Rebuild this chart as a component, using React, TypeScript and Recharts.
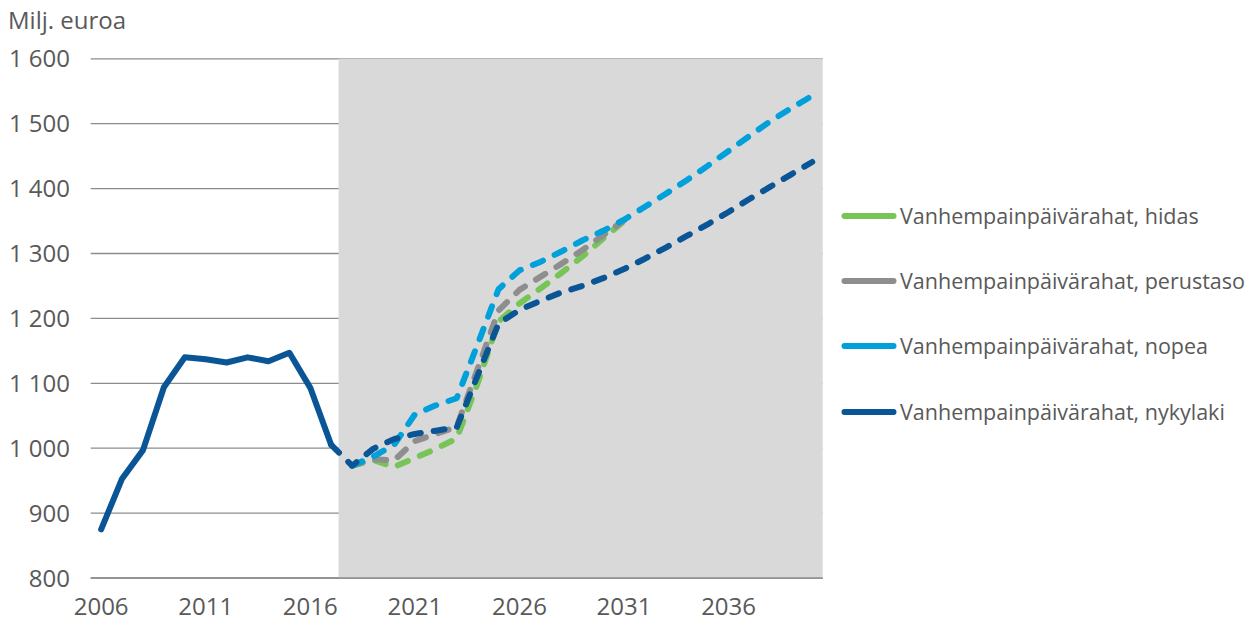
import React from 'react';
import { LineChart, Line, XAxis, YAxis, CartesianGrid, ReferenceArea, Legend } from 'recharts';

const years = [
  2006, 2007, 2008, 2009, 2010, 2011, 2012, 2013, 2014, 2015, 2016, 2017,
  2018, 2019, 2020, 2021, 2022, 2023, 2024, 2025, 2026, 2027, 2028, 2029,
  2030, 2031, 2032, 2033, 2034, 2035, 2036, 2037, 2038, 2039, 2040,
];

// Toteutunut 2006–2017
const historia = [875, 953, 997, 1094, 1140, 1137, 1132, 1140, 1134, 1147, 1093, 1005];

// Ennusteet 2018–2031 (hidas, perustaso) – yhtyvät nopeaan 2031 jälkeen
const hidas = [973, 982, 971, 985, 999, 1015, 1100, 1195, 1223, 1246, 1270, 1295, 1323, 1350];
const perustaso = [973, 983, 981, 1011, 1022, 1033, 1122, 1212, 1244, 1264, 1284, 1305, 1328, 1351];
// Ennuste 2018–2040
const nopea = [
  973, 987, 1005, 1052, 1066, 1077, 1160, 1245, 1274, 1287, 1303, 1320, 1335, 1352,
  1372, 1392, 1413, 1435, 1458, 1481, 1504, 1524, 1543,
];
// Nykylaki 2017–2040 (jatkuu toteutuneesta)
const nykylaki = [
  1005, 973, 999, 1014, 1022, 1027, 1032, 1112, 1192, 1213, 1227, 1240, 1250, 1262,
  1276, 1292, 1309, 1327, 1345, 1364, 1384, 1403, 1422, 1441,
];

const seriesNames = {
  hidas: 'Vanhempainpäivärahat, hidas',
  perustaso: 'Vanhempainpäivärahat, perustaso',
  nopea: 'Vanhempainpäivärahat, nopea',
  nykylaki: 'Vanhempainpäivärahat, nykylaki',
};
const legendOrder = ['hidas', 'perustaso', 'nopea', 'nykylaki'];

const xTicks = [2006, 2011, 2016, 2021, 2026, 2031, 2036];
const yTicks = [800, 900, 1000, 1100, 1200, 1300, 1400, 1500, 1600];
const forecastShadeStart = 2017.35;
const forecastShadeEnd = 2040.5;

const HIST_START = 2006;
const FC_START = 2018;
const NYKY_START = 2017;

const pick = (arr: number[], idx: number) => (idx >= 0 && idx < arr.length ? arr[idx] : null);

const data = years.map((year) => ({
  year,
  historia: pick(historia, year - HIST_START),
  hidas: pick(hidas, year - FC_START),
  perustaso: pick(perustaso, year - FC_START),
  nopea: pick(nopea, year - FC_START),
  nykylaki: pick(nykylaki, year - NYKY_START),
}));

const TEXT = '#595959';
const GRID = '#8c8c8c';
const FONT = '"Open Sans", sans-serif';

const fmtY = (v: number) =>
  v >= 1000 ? `${Math.floor(v / 1000)} ${String(v % 1000).padStart(3, '0')}` : String(v);

const renderLegend = (props: any) => {
  const items = (props.payload || [])
    .filter((p: any) => legendOrder.includes(String(p.dataKey)))
    .sort(
      (a: any, b: any) =>
        legendOrder.indexOf(String(a.dataKey)) - legendOrder.indexOf(String(b.dataKey))
    );
  return (
    <div>
      {items.map((p: any) => (
        <div
          key={String(p.dataKey)}
          style={{ height: 65.3, display: 'flex', alignItems: 'center', whiteSpace: 'nowrap' }}
        >
          <svg width={56} height={10} style={{ display: 'block' }}>
            <line
              x1={3.5}
              y1={5}
              x2={52.5}
              y2={5}
              stroke={p.color}
              strokeWidth={6}
              strokeLinecap="round"
            />
          </svg>
          <span
            style={{
              marginLeft: 3,
              fontFamily: FONT,
              fontSize: 21.5,
              color: TEXT,
              lineHeight: '26px',
            }}
          >
            {p.value}
          </span>
        </div>
      ))}
    </div>
  );
};

const DASH = '11 13';
const W = 6;

export default function App() {
  return (
    <div style={{ position: 'absolute', left: 0, top: 0, width: 1257, height: 617, background: '#fff' }}>
      <div
        style={{
          position: 'absolute',
          left: 8,
          top: 8,
          fontFamily: FONT,
          fontSize: 24,
          lineHeight: '24px',
          color: TEXT,
          whiteSpace: 'nowrap',
        }}
      >
        Milj. euroa
      </div>
      <LineChart
        width={1257}
        height={617}
        data={data}
        margin={{ top: 58.8, right: 434.3, bottom: 0, left: 0 }}
        style={{ position: 'absolute', left: 0, top: 0 }}
      >
        <ReferenceArea
          x1={forecastShadeStart}
          x2={forecastShadeEnd}
          y1={800}
          y2={1600}
          fill="#d9d9d9"
          fillOpacity={1}
          stroke="none"
          ifOverflow="visible"
        />
        <CartesianGrid vertical={false} stroke={GRID} strokeWidth={1.3} />
        <XAxis
          dataKey="year"
          type="number"
          domain={[2005.5, 2040.5]}
          ticks={xTicks}
          allowDataOverflow
          height={39}
          tickSize={0}
          tickMargin={19.5}
          axisLine={{ stroke: GRID, strokeWidth: 1.3 }}
          tickLine={false}
          tick={{ fill: TEXT, fontSize: 24, fontFamily: FONT }}
        />
        <YAxis
          type="number"
          domain={[800, 1600]}
          ticks={yTicks}
          width={90.7}
          tickSize={0}
          tickMargin={20.7}
          axisLine={false}
          tickLine={false}
          tickFormatter={fmtY}
          tick={{ fill: TEXT, fontSize: 24, fontFamily: FONT }}
        />
        <Legend
          layout="vertical"
          align="center"
          verticalAlign="middle"
          content={renderLegend}
          wrapperStyle={{ left: 841, top: 183, width: 416, height: 270 }}
        />
        <Line
          dataKey="historia"
          stroke="#0a5596"
          strokeWidth={W}
          dot={false}
          activeDot={false}
          legendType="none"
          strokeLinejoin="round"
          strokeLinecap="round"
          isAnimationActive={false}
        />
        <Line
          dataKey="hidas"
          name={seriesNames.hidas}
          stroke="#77c556"
          strokeWidth={W}
          strokeDasharray={DASH}
          strokeLinecap="round"
          strokeLinejoin="round"
          dot={false}
          activeDot={false}
          isAnimationActive={false}
        />
        <Line
          dataKey="perustaso"
          name={seriesNames.perustaso}
          stroke="#8e8e8e"
          strokeWidth={W}
          strokeDasharray={DASH}
          strokeLinecap="round"
          strokeLinejoin="round"
          dot={false}
          activeDot={false}
          isAnimationActive={false}
        />
        <Line
          dataKey="nopea"
          name={seriesNames.nopea}
          stroke="#00a0da"
          strokeWidth={W}
          strokeDasharray={DASH}
          strokeLinecap="round"
          strokeLinejoin="round"
          dot={false}
          activeDot={false}
          isAnimationActive={false}
        />
        <Line
          dataKey="nykylaki"
          name={seriesNames.nykylaki}
          stroke="#0a5596"
          strokeWidth={W}
          strokeDasharray={DASH}
          strokeLinecap="round"
          strokeLinejoin="round"
          dot={false}
          activeDot={false}
          isAnimationActive={false}
        />
      </LineChart>
    </div>
  );
}
